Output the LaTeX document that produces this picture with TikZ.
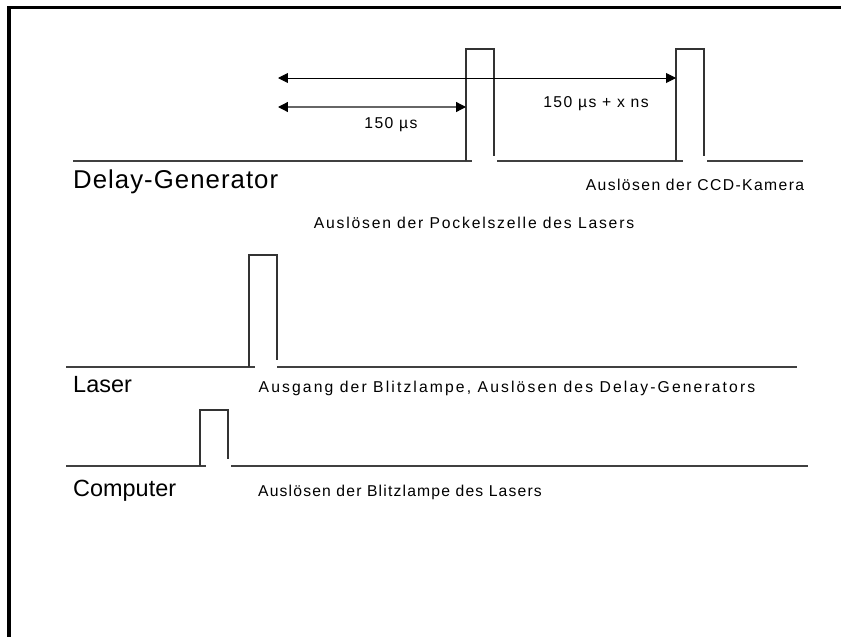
\documentclass[tikz,border=0pt]{standalone}
\usepackage{fontspec}
\setmainfont{Liberation Sans}
\usetikzlibrary{arrows.meta, positioning}

\begin{document}
\begin{tikzpicture}[x=0.03cm, y=-0.03cm,
		% Define styles
		frameline/.style={line width=2.6pt, black},
		axisline/.style={line width=1.1pt, black!75},
		pulseline/.style={line width=0.9pt, black!80},
		dimarrow/.style={{Triangle[length=8.5pt, width=8.5pt, color=black]}-{Triangle[length=8.5pt, width=8.5pt, color=black]}, line width=0.8pt},
		signame/.style={font=\fontsize{20}{24}\selectfont, anchor=west, inner sep=0pt},
		eventlabel/.style={font=\fontsize{13.4}{16}\selectfont\addfontfeature{LetterSpace=9}, inner sep=0pt}
		]
		
		\useasboundingbox (0,0) rectangle (841,637);
		
		% Frame (cut at right and bottom)
		\draw[frameline] (841,7.5) -- (9,7.5) -- (9,637);
		
		% Delay-Generator line with two pulses
		\draw[axisline] (73,161) -- (472,161);
		\draw[axisline] (497,161) -- (683,161);
		\draw[axisline] (707,161) -- (803,161);
		\draw[pulseline] (466,161) -- (466,49) -- (494,49) -- (494,156);
		\draw[pulseline] (676,161) -- (676,49) -- (704,49) -- (704,156);
		
		% Laser line with pulse
		\draw[axisline] (66,367) -- (255,367);
		\draw[axisline] (277,367) -- (797,367);
		\draw[pulseline] (249,367) -- (249,255) -- (277,255) -- (277,360);
		
		% Computer line with pulse
		\draw[axisline] (66,466) -- (206,466);
		\draw[axisline] (231,466) -- (808,466);
		\draw[pulseline] (200,466) -- (200,410) -- (228,410) -- (228,459);
		
		% Arrow end points
		\coordinate (start) at (278,78);
		\coordinate (camera) at (676,78);
		\coordinate (startb) at (278,107);
		\coordinate (pockels) at (466,107);
		
		% Delay arrows
		\draw[dimarrow] (start) -- (camera);
		\draw[dimarrow, black!60, line width=1.1pt] (startb) -- (pockels);
		
		% Delay labels
		\node[eventlabel] (shortdelay) at (391,125) {150 µs};
		\node[eventlabel] (longdelay) at (596,104) {150 µs + x ns};
		
		% Signal names
		\node[signame, font=\fontsize{22}{26}\selectfont] (delaygen) at (73,182) {\addfontfeature{LetterSpace=4}Delay-Generator};
		\node[signame] (laser) at (73,385) {Laser};
		\node[signame] (computer) at (73,491) {Computer};
		
		% Event labels
		\node[eventlabel] (ccd) at (695,185) {Auslösen der CCD-Kamera};
		\node[eventlabel] (pockelszelle) at (474,223) {\addfontfeature{LetterSpace=11.5}Auslösen der Pockelszelle des Lasers};
		\node[eventlabel] (blitzausgang) at (507,388) {\addfontfeature{LetterSpace=13.5}Ausgang der Blitzlampe, Auslösen des Delay-Generators};
		\node[eventlabel] (blitzlampe) at (400,492) {\addfontfeature{LetterSpace=7.5}Auslösen der Blitzlampe des Lasers};
		
	\end{tikzpicture}
\end{document}
